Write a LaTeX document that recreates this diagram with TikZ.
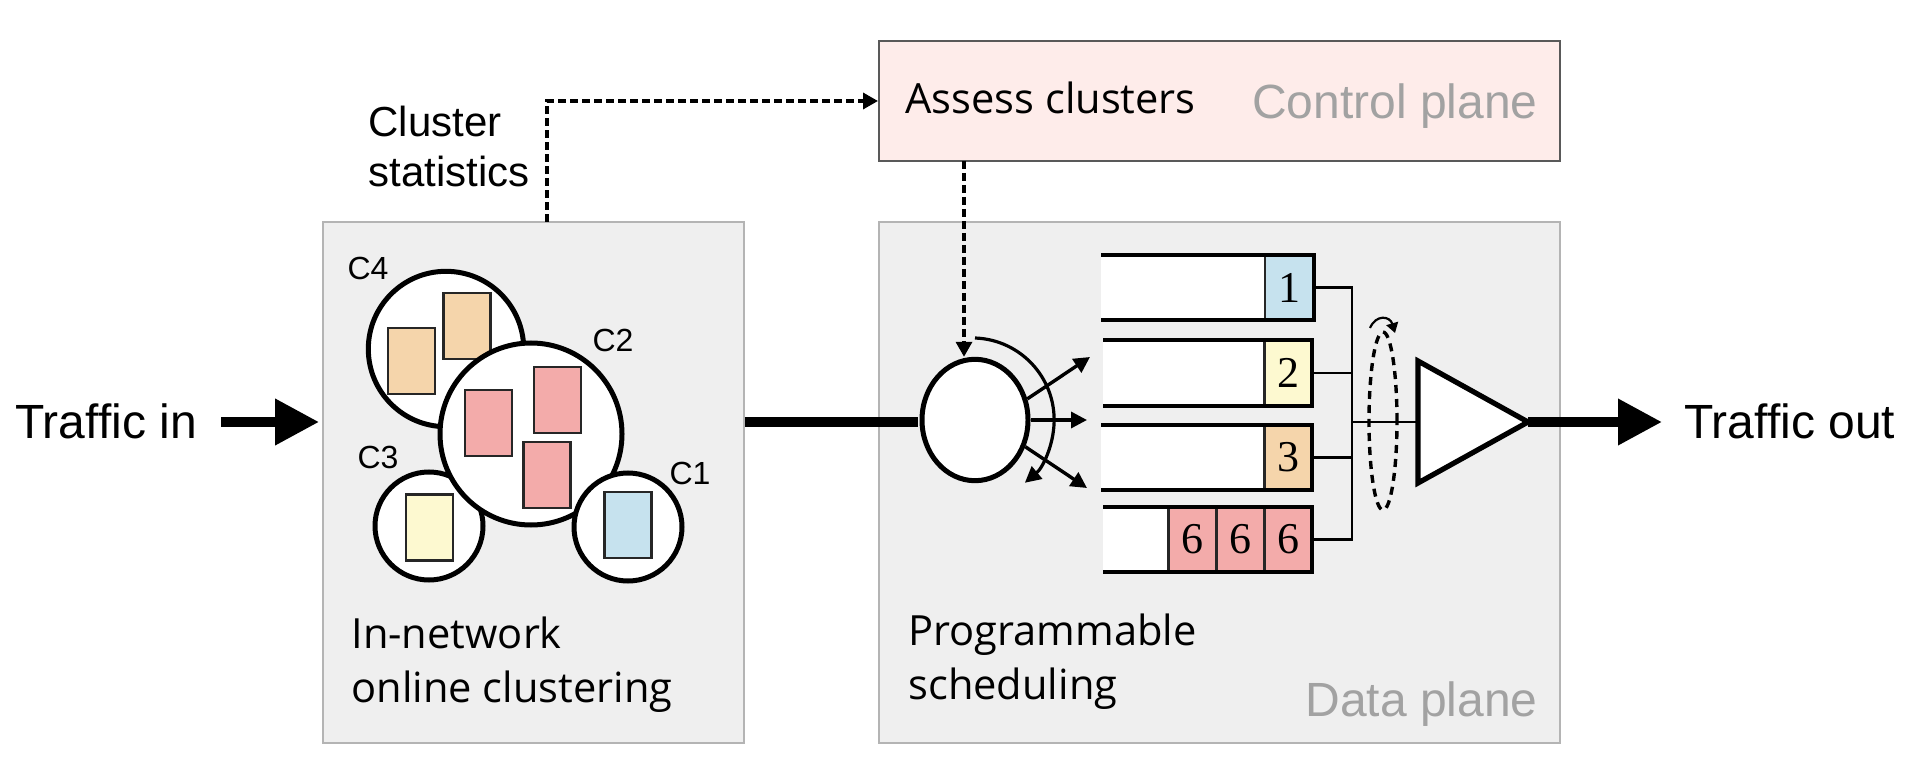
\documentclass[tikz,border=0pt]{standalone}
\usepackage{xcolor}
\usepackage{fontspec}
\setmainfont{Liberation Sans}
\newfontfamily\notefont{Open Sans}
\newfontfamily\digitfont{Liberation Serif}
\usepackage{tikz}
\usetikzlibrary{arrows.meta,shapes.geometric}

\definecolor{panelgray}{HTML}{EFEFEF}
\definecolor{panelline}{HTML}{B4B4B4}
\definecolor{ctrlpink}{HTML}{FEECEA}
\definecolor{planegray}{HTML}{A2A2A2}
\definecolor{flowblue}{HTML}{C6E2EE}
\definecolor{flowyellow}{HTML}{FDF9D0}
\definecolor{flowtan}{HTML}{F5D5AB}
\definecolor{flowred}{HTML}{F3ABAA}

\tikzset{
  panel/.style={draw=panelline, line width=0.9pt, fill=panelgray, minimum width=#1, minimum height=260.5pt, inner sep=0},
  cluster/.style={circle, draw, line width=2.5pt, fill=white, minimum size=#1, inner sep=0},
  flowbox/.style={draw=black!85, line width=1.1pt, fill=#1, minimum width=23.5pt, minimum height=33pt, inner sep=0},
  cell/.style={draw=black!85, line width=1.1pt, fill=#1, minimum height=32.5pt, inner sep=0, font=\fontsize{22}{22}\digitfont},
  tag/.style={inner sep=0, font=\fontsize{16}{16}\selectfont},
  note/.style={inner sep=0, anchor=west, align=left, font=\fontsize{20.8}{27}\notefont},
  plane/.style={inner sep=0, anchor=base east, text=planegray, font=\fontsize{24}{24}\selectfont},
  traffic/.style={inner sep=0, font=\fontsize{24}{24}\selectfont},
  bigflow/.style={line width=5pt, -{Triangle[length=22pt,width=22pt]}},
  ctrlflow/.style={line width=1.7pt, dash pattern=on 4pt off 2pt, -{Triangle[length=7.5pt,width=8pt]}},
  fanflow/.style={line width=1.7pt, -{Triangle[length=8pt,width=8pt]}},
  wall/.style={line width=2.4pt, line join=miter},
  wire/.style={line width=1.4pt}
}

\begin{document}
\begin{tikzpicture}[x=0.5pt, y=-0.5pt]

  \useasboundingbox (0,0) rectangle (1906,759);

  % panels
  \node [panel=210.5pt] (clusterbox) at (533.5,482.5) {};
  \node [panel=340.5pt] (databox) at (1219.5,482.5) {};
  \node [draw=black!65, line width=1pt, fill=ctrlpink, minimum width=340.5pt, minimum height=60pt, inner sep=0] (ctrlbox) at (1219.5,101) {};

  \node [note] (assess) at (905,98) {Assess clusters};
  \node [plane] (ctrlname) at (1538,119) {Control plane};
  \node [plane] (dataname) at (1538,716) {Data plane};
  \node [note] (clustering) at (351,665) {In-network\\online clustering};
  \node [note] (programmable) at (908,662) {Programmable\\scheduling};
  \node [inner sep=0, anchor=west, align=left, font=\fontsize{21}{25}\selectfont] (stats) at (368,146) {Cluster\\statistics};
  \node [traffic, anchor=base west] (trafin) at (15,438) {Traffic in};
  \node [traffic, anchor=base west] (trafout) at (1684,438) {Traffic out};

  % clusters
  \node [cluster=77.7pt] (c4) at (446,349) {};
  \node [flowbox=flowtan] (f4b) at (467,325.7) {};
  \node [flowbox=flowtan] (f4a) at (411.7,361.3) {};
  \node [cluster=54pt] (c3) at (429,526) {};
  \node [flowbox=flowyellow] (f3) at (429.5,527.5) {};
  \node [cluster=91pt] (c2) at (531,434) {};
  \node [flowbox=flowred] (f2a) at (488.2,423.2) {};
  \node [flowbox=flowred] (f2b) at (557.8,400) {};
  \node [flowbox=flowred] (f2c) at (547,474.7) {};
  \node [cluster=54pt] (c1) at (628,527) {};
  \node [flowbox=flowblue] (f1) at (628,525.2) {};

  \node [tag] (c4name) at (368,268) {C4};
  \node [tag] (c2name) at (613,340) {C2};
  \node [tag] (c3name) at (378,457) {C3};
  \node [tag] (c1name) at (690,473) {C1};

  % queues
  \draw [wall, fill=white] (1101,255) -- (1314,255) -- (1314,320) -- (1101,320);
  \draw [wall, fill=white] (1103,340) -- (1312,340) -- (1312,406) -- (1103,406);
  \draw [wall, fill=white] (1101,425) -- (1312,425) -- (1312,490) -- (1101,490);
  \draw [wall, fill=white] (1103,507) -- (1312,507) -- (1312,572) -- (1103,572);

  \node [cell=flowblue, minimum width=24.5pt] (q1) at (1289.5,287.5) {1};
  \node [cell=flowyellow, minimum width=24pt] (q2) at (1288.5,373) {2};
  \node [cell=flowtan, minimum width=24pt] (q3) at (1288.5,457.5) {3};
  \node [cell=flowred, minimum width=24pt] (q4a) at (1288.5,539.5) {6};
  \node [cell=flowred, minimum width=24pt] (q4b) at (1240.5,539.5) {6};
  \node [cell=flowred, minimum width=24pt] (q4c) at (1192.5,539.5) {6};

  \draw [wall] (1101,255) -- (1314,255) -- (1314,320) -- (1101,320);
  \draw [wall] (1103,340) -- (1312,340) -- (1312,406) -- (1103,406);
  \draw [wall] (1101,425) -- (1312,425) -- (1312,490) -- (1101,490);
  \draw [wall] (1103,507) -- (1312,507) -- (1312,572) -- (1103,572);

  \coordinate (busin) at (1352,422);
  \draw [wire] (q1.east) -| (busin);
  \draw [wire] (q2.east) -| (busin);
  \draw [wire] (q3.east) -| (busin);
  \draw [wire] (q4a.east) -| (busin);

  % scheduler
  \coordinate (triin) at (1418,422);
  \coordinate (triout) at (1528,422);
  \draw [wire] (busin) -- (triin);
  \draw [line width=1.7pt, dash pattern=on 4pt off 3pt] (1383,421) ellipse (7pt and 44.5pt);
  \draw [line width=1.1pt, -{Triangle[length=5pt,width=6pt]}] (1370,328) .. controls (1376,314) and (1390,316) .. (1395,333);
  \draw [line width=2.6pt, fill=white] (1418,361) -- (triout) -- (1418,483) -- cycle;

  \node [ellipse, draw, line width=2.5pt, fill=white, minimum width=53pt, minimum height=60.7pt, inner sep=0] (sched) at (975,420) {};

  \coordinate (fan1) at (1090,357);
  \coordinate (fan2) at (1087,420);
  \coordinate (fan3) at (1087,488);
  \draw [fanflow] (sched.22) -- (fan1);
  \draw [fanflow] (sched.east) -- (fan2);
  \draw [fanflow] (sched.-28) -- (fan3);
  \draw [line width=1.6pt, -{Triangle[length=8pt,width=8pt]}] (975,338) arc [start angle=-88, end angle=50, radius=82];

  % flows
  \coordinate (mainy) at (0,422);
  \coordinate (statsrc) at (547,222);
  \coordinate (ctrlout) at (964,161);
  \draw [bigflow, shorten <=12pt, shorten >=1.5pt] (trafin.east |- mainy) -- (clusterbox.west |- mainy);
  \draw [line width=5pt, shorten >=1pt] (clusterbox.east |- mainy) -- (sched.west |- mainy);
  \draw [bigflow, shorten >=11pt] (triout) -- (trafout.west |- mainy);
  \draw [ctrlflow] (statsrc) |- (ctrlbox.west);
  \draw [ctrlflow] (ctrlout) -- (sched.north -| ctrlout);

\end{tikzpicture}
\end{document}
